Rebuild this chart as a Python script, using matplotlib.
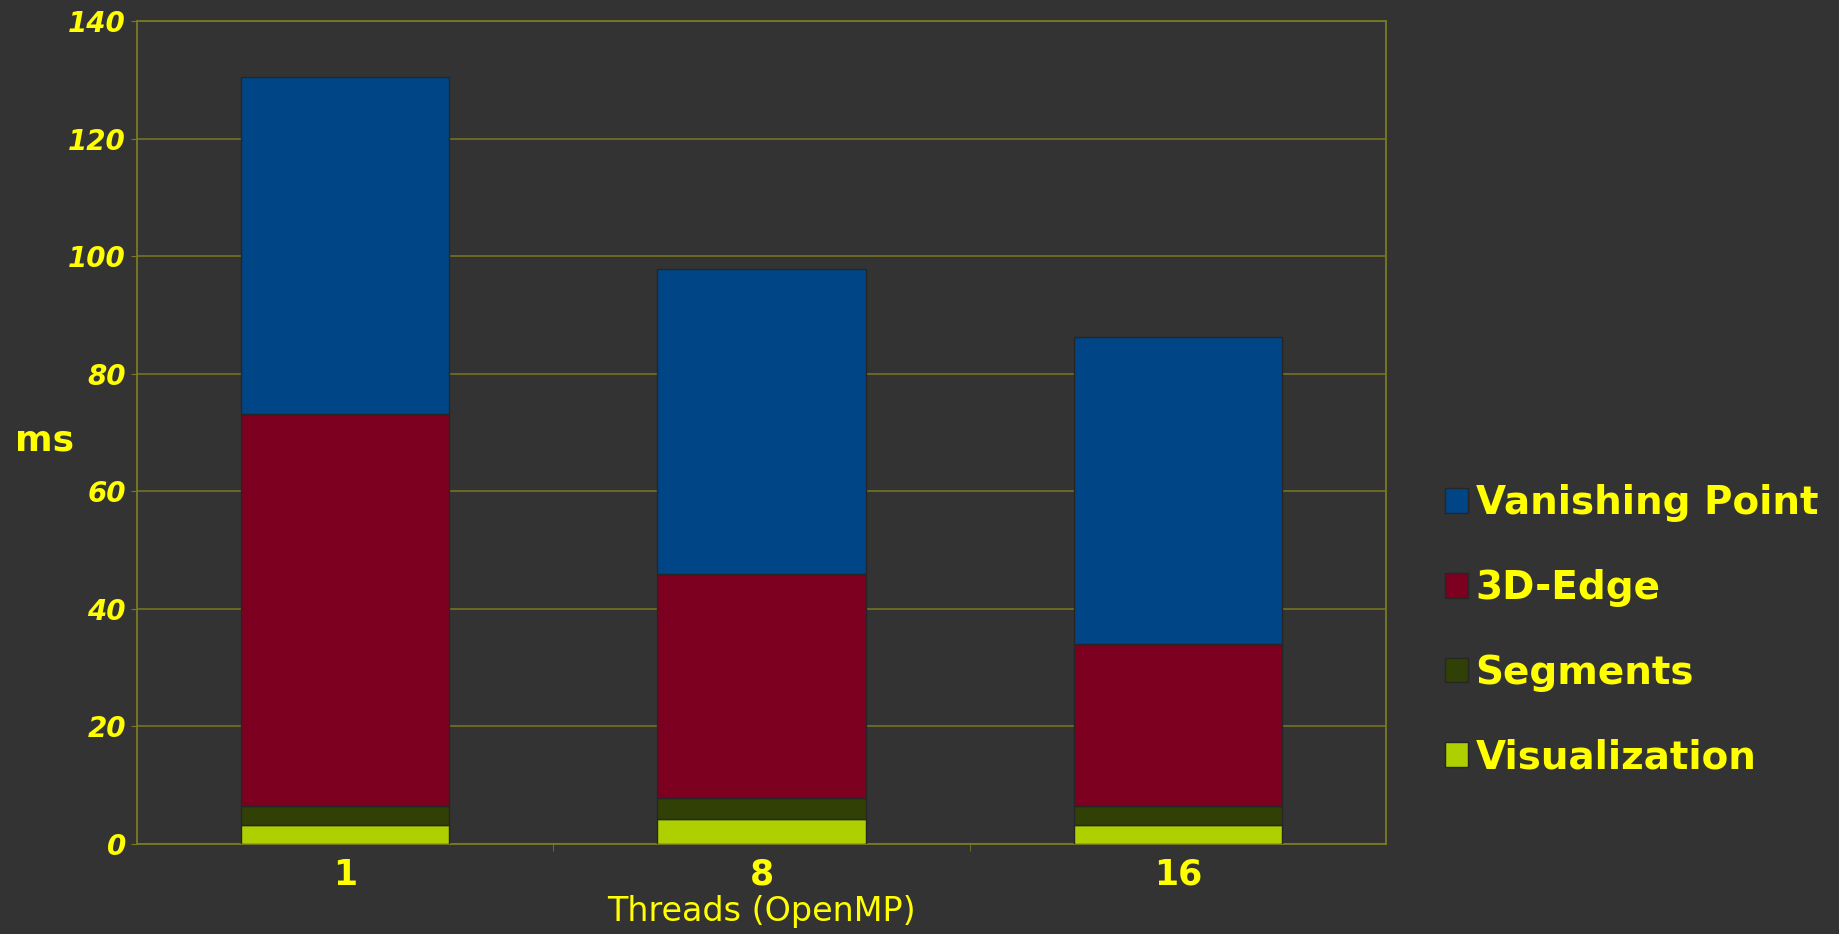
import matplotlib
matplotlib.use("Agg")
import matplotlib.pyplot as plt
import numpy as np

threads = ["1", "8", "16"]
visualization = [3.2, 4.2, 3.3]
segments = [3.3, 3.7, 3.2]
edge3d = [66.7, 38.0, 27.6]
vanishing = [57.3, 51.9, 52.1]

series = [
    ("Visualization", visualization, "#aecf00"),
    ("Segments", segments, "#314004"),
    ("3D-Edge", edge3d, "#7e0021"),
    ("Vanishing Point", vanishing, "#004586"),
]

bg = "#333333"
yellow = "#ffff00"
gridcol = "#6e6e22"

fig = plt.figure(figsize=(18.39, 9.34), dpi=100, facecolor=bg)
ax = fig.add_axes([0.0745, 0.0964, 0.6792, 0.8811], facecolor=bg)

x = np.arange(len(threads))
bottom = np.zeros(len(threads))
handles = {}
for name, vals, col in series:
    b = ax.bar(x, vals, 0.5, bottom=bottom, color=col, edgecolor="#262626",
               linewidth=1.0, zorder=3, label=name)
    handles[name] = b
    bottom += np.array(vals)

ax.set_xlim(-0.5, 2.5)
ax.set_ylim(0, 140)
ax.set_yticks(np.arange(0, 141, 20))
ax.yaxis.grid(True, color=gridcol, linewidth=1.3, zorder=0)
ax.set_axisbelow(True)

for s in ax.spines.values():
    s.set_color("#7a7a22")
    s.set_linewidth(1.3)

ax.set_xticks(x)
ax.set_xticklabels(threads)
ax.set_xticks([0.5, 1.5], minor=True)
ax.tick_params(axis="x", which="major", length=0, pad=10, labelsize=25,
               labelcolor=yellow)
ax.tick_params(axis="x", which="minor", length=5, color="#7a7a22")
ax.tick_params(axis="y", length=4, color="#7a7a22", labelcolor=yellow,
               labelsize=20, pad=4)
for lab in ax.get_xticklabels():
    lab.set_fontweight("bold")
for lab in ax.get_yticklabels():
    lab.set_fontstyle("italic")
    lab.set_fontweight("bold")

ax.set_xlabel("Threads (OpenMP)", color=yellow, fontsize=24, labelpad=2)
ax.set_ylabel("ms", color=yellow, fontsize=26, fontweight="bold",
              rotation=0, va="center", ha="center")
ax.yaxis.set_label_coords(-0.074, 0.49)

order = ["Vanishing Point", "3D-Edge", "Segments", "Visualization"]
leg = fig.legend([handles[n] for n in order], order, loc="center left",
                 bbox_to_anchor=(0.7665, 0.325), bbox_transform=fig.transFigure,
                 frameon=False, handlelength=0.6,
                 handleheight=0.6, handletextpad=0.2, labelspacing=1.2,
                 prop={"weight": "bold", "size": 28})
for t in leg.get_texts():
    t.set_color(yellow)

fig.savefig("out.png", dpi=100, facecolor=bg)
